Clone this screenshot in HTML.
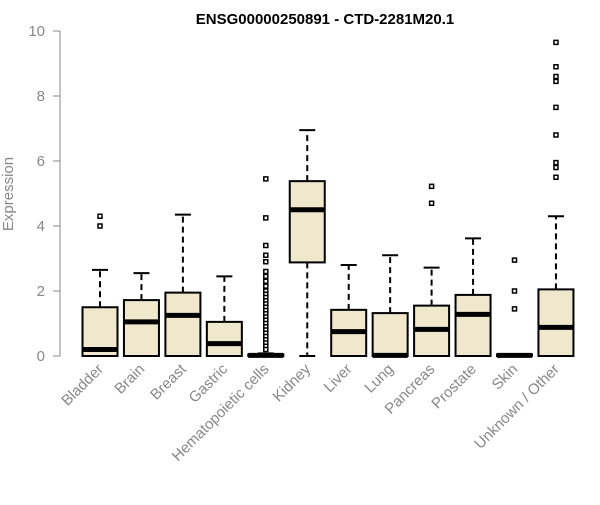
<!DOCTYPE html>
<html><head><meta charset="utf-8"><style>body{margin:0;background:#fff}svg{font-family:"Liberation Sans",sans-serif}</style></head>
<body>
<svg id="c" width="600" height="500">
<text x="325" y="24" text-anchor="middle" font-weight="bold" font-size="15">ENSG00000250891 - CTD-2281M20.1</text>
<text transform="translate(13,194) rotate(-90)" text-anchor="middle" font-size="15" fill="#888">Expression</text>
</svg>
<script>
const categories=["Bladder","Brain","Breast","Gastric","Hematopoietic cells","Kidney","Liver","Lung","Pancreas","Prostate","Skin","Unknown / Other"];
const q1=[0,0,0,0,0,2.88,0,0,0,0,0,0];
const medians=[0.2,1.05,1.25,0.38,0.02,4.5,0.75,0.02,0.82,1.28,0.02,0.88];
const q3=[1.5,1.72,1.95,1.05,0.05,5.38,1.42,1.32,1.55,1.88,0.05,2.05];
const whiskerLow=[0,0,0,0,0,0,0,0,0,0,0,0];
const whiskerHigh=[2.65,2.55,4.35,2.45,0.08,6.95,2.8,3.1,2.72,3.62,0.05,4.3];
const outliers=[[4.0,4.3],[],[],[],[5.45,4.25,3.4,3.1,2.9,2.6,2.45,2.3,2.15,2.0,1.9,1.8,1.7,1.6,1.5,1.4,1.3,1.2,1.1,1.0,0.9,0.8,0.7,0.6,0.5,0.4,0.3,0.2],[],[],[],[4.7,5.22],[],[1.45,2.0,2.95],[5.5,5.8,5.95,6.8,7.65,8.45,8.6,8.9,9.65]];
const yTicks=[0,2,4,6,8,10];
const svg=document.getElementById('c');const NS="http://www.w3.org/2000/svg";
const y=v=>356-32.5*v;const x=i=>100+i*41.45;
function mk(t,a){const e=document.createElementNS(NS,t);for(const k in a)e.setAttribute(k,a[k]);svg.appendChild(e);return e;}
let ax=mk('line',{x1:60,x2:60,y1:y(0),y2:y(10),stroke:'#888'});


yTicks.forEach(t=>{let l=mk('line',{x1:53,x2:60,y1:y(t),y2:y(t),stroke:'#888'});


let tx=mk('text',{x:45,y:y(t)+5,'text-anchor':'end','font-size':15,fill:'#888'});tx.textContent=t;

});
categories.forEach((c,i)=>{const cx=x(i),w=17.5;
let g=mk('g',{});


const add=(t,a)=>{const e=document.createElementNS(NS,t);for(const k in a)e.setAttribute(k,a[k]);g.appendChild(e);return e;};
add('line',{x1:cx,x2:cx,y1:y(q3[i]),y2:y(whiskerHigh[i]),stroke:'#000','stroke-width':2,'stroke-dasharray':'6,4'});
add('line',{x1:cx,x2:cx,y1:y(q1[i]),y2:y(whiskerLow[i]),stroke:'#000','stroke-width':2,'stroke-dasharray':'6,4'});
add('line',{x1:cx-8,x2:cx+8,y1:y(whiskerHigh[i]),y2:y(whiskerHigh[i]),stroke:'#000','stroke-width':2});
add('line',{x1:cx-8,x2:cx+8,y1:y(whiskerLow[i]),y2:y(whiskerLow[i]),stroke:'#000','stroke-width':2});
add('rect',{x:cx-w,y:y(q3[i]),width:2*w,height:Math.max(y(q1[i])-y(q3[i]),0.5),fill:'#efe8cd',stroke:'#000','stroke-width':2});
add('line',{x1:cx-w,x2:cx+w,y1:y(medians[i]),y2:y(medians[i]),stroke:'#000','stroke-width':5});
outliers[i].forEach(o=>add('rect',{x:cx-2,y:y(o)-2,width:4,height:4,fill:'#fff',stroke:'#000','stroke-width':1.5}));
let t=mk('text',{transform:`translate(${cx+4},${370}) rotate(-45)`,'text-anchor':'end','font-size':15,fill:'#888'});t.textContent=c;


});
</script>
</body></html>
